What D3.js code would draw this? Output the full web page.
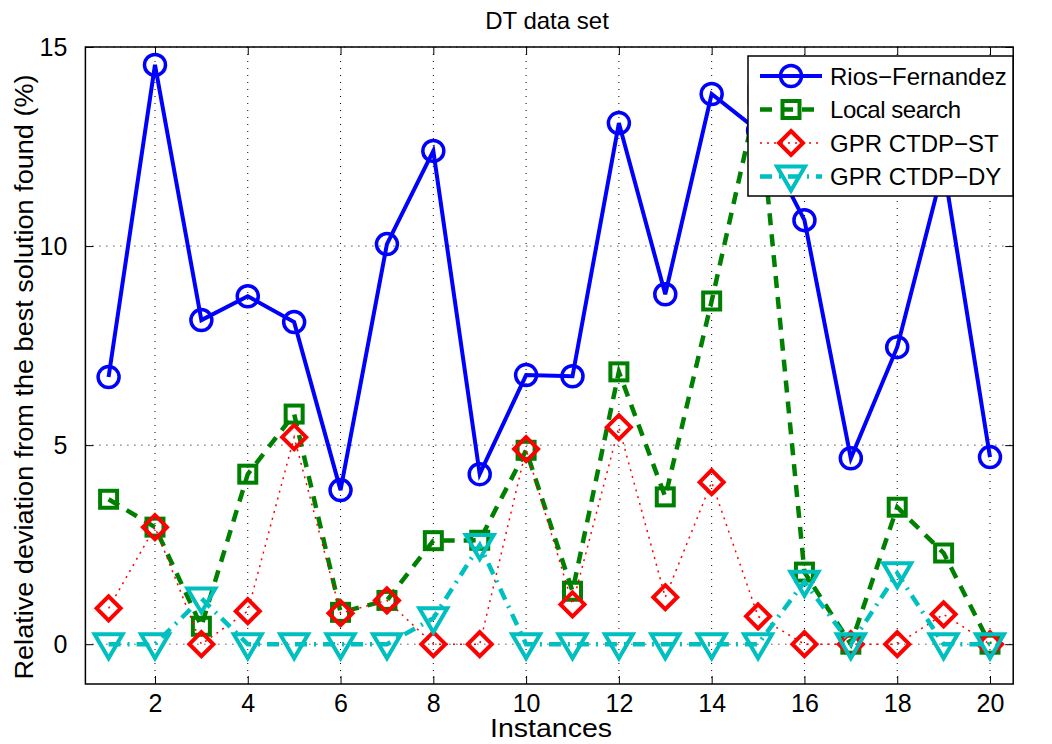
<!DOCTYPE html>
<html>
<head>
<meta charset="utf-8">
<script src="https://cdn.jsdelivr.net/npm/d3@7"></script>
<style>
  body { margin: 0; background: #fff; }
  text { font-family: "Liberation Sans", Arial, sans-serif; }
</style>
</head>
<body>
<svg width="1052" height="744"></svg>
<script>
// instances 1..20
var instances = d3.range(1, 21);
var riosFernandez = [6.71, 14.55, 8.14, 8.74, 8.09, 3.87, 10.05, 12.39, 4.27, 6.76,
                     6.73, 13.09, 8.79, 13.82, 12.9, 10.65, 4.67, 7.46, 12.0, 4.70];
var localSearch = [3.64, 2.94, 0.45, 4.27, 5.78, 0.80, 1.10, 2.60, 2.61, 4.87,
                   1.33, 6.84, 3.70, 8.62, 13.8, 1.81, 0.0, 3.44, 2.29, 0.0];
var ctdpST = [0.90, 2.94, 0.0, 0.83, 5.20, 0.78, 1.10, 0.0, 0.0, 4.90,
              1.00, 5.45, 1.18, 4.07, 0.70, 0.0, 0.0, 0.0, 0.75, 0.0];
var ctdpDY = [0.0, 0.0, 1.15, 0.0, 0.0, 0.0, 0.0, 0.65, 2.49, 0.0,
              0.0, 0.0, 0.0, 0.0, 0.0, 1.57, 0.0, 1.78, 0.0, 0.0];
var xTicks = [2, 4, 6, 8, 10, 12, 14, 16, 18, 20];
var yTicks = [0, 5, 10, 15];
var seriesNames = ["Rios\u2212Fernandez", "Local search", "GPR CTDP\u2212ST", "GPR CTDP\u2212DY"];

var svg = d3.select("svg");
var pLeft = 85.4, pRight = 1013.2, pTop = 47, pBottom = 684;

var x = d3.scaleLinear().domain([0.5, 20.5]).range([pLeft, pRight]);
var y = d3.scaleLinear().domain([-1, 15]).range([pBottom, pTop]);

// grid
var grid = svg.append("g");
grid.selectAll(".gx").data(xTicks).enter().append("line")
    .attr("x1", function(d) { return x(d); }).attr("x2", function(d) { return x(d); })
    .attr("y1", pTop).attr("y2", pBottom)
    .attr("stroke", "#000").attr("stroke-width", 1).attr("stroke-dasharray", "1,6");
grid.selectAll(".gy").data(yTicks).enter().append("line")
    .attr("x1", pLeft).attr("x2", pRight)
    .attr("y1", function(d) { return y(d); }).attr("y2", function(d) { return y(d); })
    .attr("stroke", "#000").attr("stroke-width", 1).attr("stroke-dasharray", "1,6");

// axes, ticks inside like matlab
svg.append("g")
    .attr("transform", "translate(0," + pBottom + ")")
    .call(d3.axisBottom(x).tickValues(xTicks).tickSize(-8).tickPadding(10))
    .call(function(g) { g.select(".domain").remove(); });
svg.append("g")
    .attr("transform", "translate(0," + pTop + ")")
    .call(d3.axisTop(x).tickValues(xTicks).tickSize(-8).tickFormat(""))
    .call(function(g) { g.select(".domain").remove(); });
svg.append("g")
    .attr("transform", "translate(" + pLeft + ",0)")
    .call(d3.axisLeft(y).tickValues(yTicks).tickSize(-8).tickPadding(18))
    .call(function(g) { g.select(".domain").remove(); });
svg.append("g")
    .attr("transform", "translate(" + pRight + ",0)")
    .call(d3.axisRight(y).tickValues(yTicks).tickSize(-8).tickFormat(""))
    .call(function(g) { g.select(".domain").remove(); });
svg.selectAll(".tick line").attr("stroke", "#000").attr("stroke-width", 1);
svg.selectAll(".tick text").attr("fill", "#000").style("font-size", "25px")
    .style("font-family", "Liberation Sans, Arial, sans-serif");

svg.append("rect")
    .attr("x", pLeft).attr("y", pTop)
    .attr("width", pRight - pLeft).attr("height", pBottom - pTop)
    .attr("fill", "none").attr("stroke", "#000").attr("stroke-width", 1.5);

// series
var series = [
  {name: seriesNames[0], values: riosFernandez, color: "#0000ff", width: 4, dash: null, marker: "circle"},
  {name: seriesNames[1], values: localSearch, color: "#008000", width: 4.5, dash: "12,9", marker: "square"},
  {name: seriesNames[2], values: ctdpST, color: "#ff0000", width: 1.5, dash: "2,5", marker: "diamond"},
  {name: seriesNames[3], values: ctdpDY, color: "#00bfbf", width: 4.5, dash: "12,7,2,7", marker: "triangle"}
];

var line = d3.line()
    .x(function(d, i) { return x(instances[i]); })
    .y(function(d) { return y(d); });

function drawMarker(g, type, cx, cy, color) {
  if (type == "circle") {
    g.append("circle").attr("cx", cx).attr("cy", cy).attr("r", 10.5)
      .attr("fill", "none").attr("stroke", color).attr("stroke-width", 3.5);
  } else if (type == "square") {
    g.append("rect").attr("x", cx - 8.5).attr("y", cy - 8.5).attr("width", 17).attr("height", 17)
      .attr("fill", "none").attr("stroke", color).attr("stroke-width", 4);
  } else if (type == "diamond") {
    g.append("path").attr("d", "M" + cx + "," + (cy - 12) + "L" + (cx + 12) + "," + cy +
        "L" + cx + "," + (cy + 12) + "L" + (cx - 12) + "," + cy + "Z")
      .attr("fill", "none").attr("stroke", color).attr("stroke-width", 4);
  } else {
    g.append("path").attr("d", "M" + (cx - 14) + "," + (cy - 10) + "L" + (cx + 14) + "," + (cy - 10) +
        "L" + cx + "," + (cy + 14) + "Z")
      .attr("fill", "none").attr("stroke", color).attr("stroke-width", 4)
      .attr("stroke-linejoin", "miter");
  }
}

series.forEach(function(s) {
  var g = svg.append("g");
  g.append("path")
    .attr("d", line(s.values))
    .attr("fill", "none")
    .attr("stroke", s.color)
    .attr("stroke-width", s.width)
    .attr("stroke-dasharray", s.dash);
  s.values.forEach(function(v, i) {
    drawMarker(g, s.marker, x(instances[i]), y(v), s.color);
  });
});

// legend
var lg = svg.append("g");
lg.append("rect").attr("x", 748).attr("y", 56).attr("width", 265).attr("height", 140)
    .attr("fill", "#fff").attr("stroke", "#000").attr("stroke-width", 1.5);
series.forEach(function(s, i) {
  var ly = 76 + i * 33.5;
  lg.append("line").attr("x1", 760).attr("x2", 822).attr("y1", ly).attr("y2", ly)
    .attr("stroke", s.color).attr("stroke-width", s.width)
    .attr("stroke-dasharray", s.dash);
  drawMarker(lg, s.marker, 791, ly, s.color);
  lg.append("text").attr("x", 830).attr("y", ly).attr("dy", "0.36em")
    .style("font-size", "24px").attr("textLength", i == 1 ? 131 : null)
    .text(s.name);
});

// titles
svg.append("text").attr("x", 547).attr("y", 29).attr("text-anchor", "middle")
    .style("font-size", "24px").text("DT data set");
svg.append("text").attr("x", 551).attr("y", 737).attr("text-anchor", "middle")
    .style("font-size", "25px").attr("textLength", 122).attr("lengthAdjust", "spacingAndGlyphs")
    .text("Instances");
svg.append("text")
    .attr("transform", "translate(33," + 377 + ") rotate(-90)")
    .attr("text-anchor", "middle")
    .style("font-size", "26px")
    .attr("textLength", 605).attr("lengthAdjust", "spacingAndGlyphs")
    .text("Relative deviation from the best solution  found (%)");
</script>
</body>
</html>
